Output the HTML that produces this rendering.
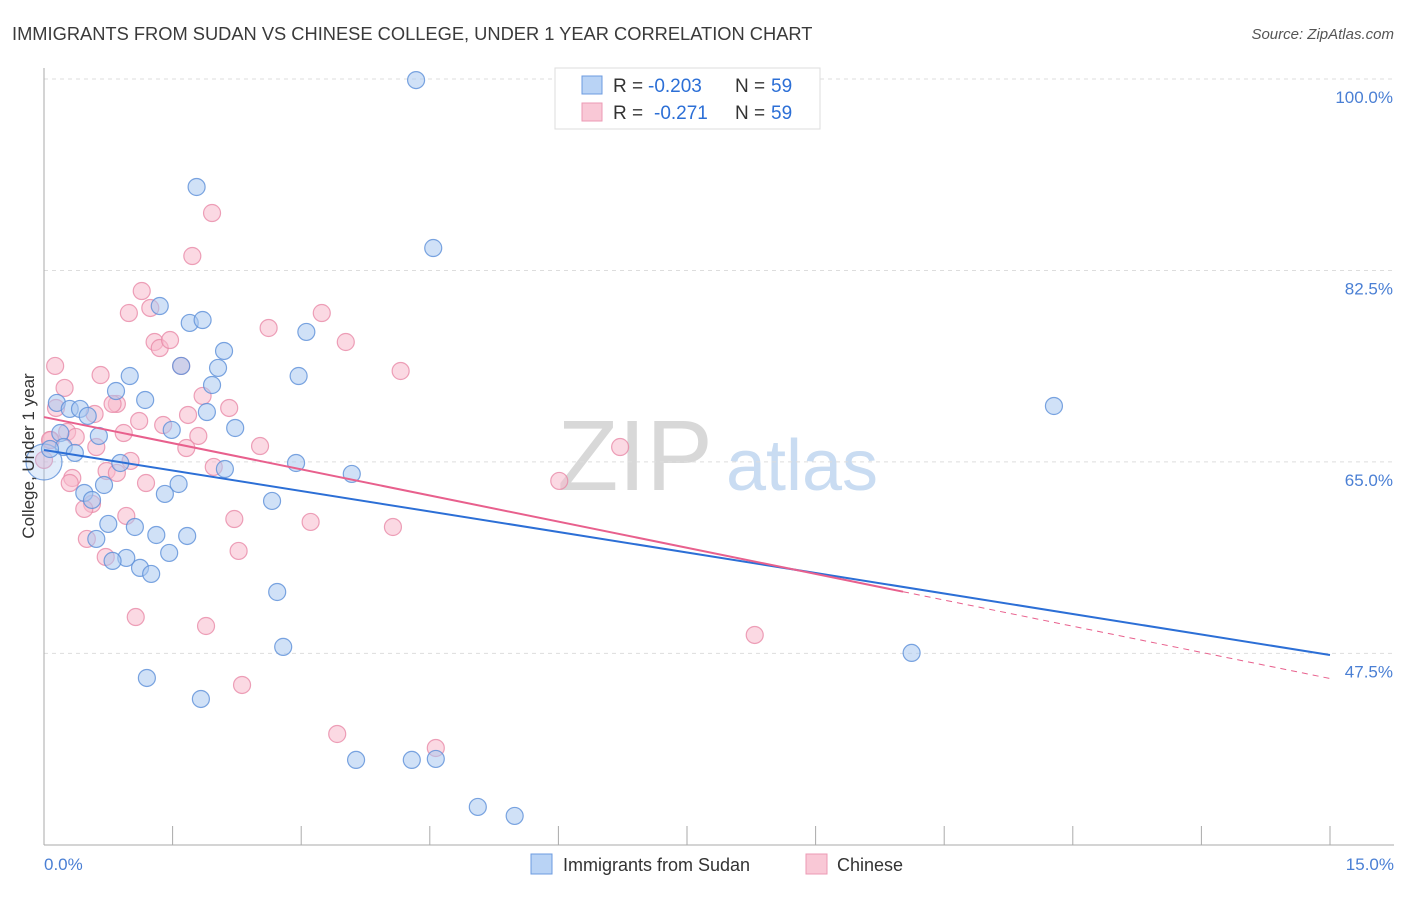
<!DOCTYPE html>
<html><head><meta charset="utf-8"><style>
body{margin:0;background:#fff;font-family:"Liberation Sans",sans-serif}
svg text{font-family:"Liberation Sans",sans-serif}
</style></head><body>
<svg id="chart" width="1406" height="892" viewBox="0 0 1406 892" xmlns="http://www.w3.org/2000/svg">
<text x="12" y="40" font-size="18.3" fill="#3a3a3a">IMMIGRANTS FROM SUDAN VS CHINESE COLLEGE, UNDER 1 YEAR CORRELATION CHART</text>
<text x="1394" y="39" font-size="15" fill="#555" text-anchor="end" font-style="italic">Source: ZipAtlas.com</text>
<g>
<text x="635" y="490" font-size="100" fill="#d8d8d8" font-family="Liberation Serif" text-anchor="middle">ZIP</text>
<text x="802" y="490" font-size="72" fill="#c9dcf2" text-anchor="middle">atlas</text>
</g>
<g id="grid"></g>
<g id="axes"></g>
<g id="points"></g>
<g id="lines"></g>
<text transform="translate(34,456) rotate(-90)" font-size="17" fill="#333" text-anchor="middle">College, Under 1 year</text>
<text x="44" y="870" font-size="17" fill="#4a7fd4">0.0%</text>
<text x="1394" y="870" font-size="17" fill="#4a7fd4" text-anchor="end">15.0%</text>
<g>
<rect x="555" y="68" width="265" height="61" fill="#fff" stroke="#ddd"/>
<rect x="582" y="76" width="20" height="18" fill="#b9d3f5" stroke="#6c9be0"/>
<rect x="582" y="103" width="20" height="18" fill="#f9c8d6" stroke="#ec9ab4"/>
<text x="613" y="92" font-size="19" fill="#333">R =</text>
<text x="648" y="92" font-size="19" fill="#2c6fd6">-0.203</text>
<text x="735" y="92" font-size="19" fill="#333">N =</text>
<text x="771" y="92" font-size="19" fill="#2c6fd6">59</text>
<text x="613" y="119" font-size="19" fill="#333">R =</text>
<text x="654" y="119" font-size="19" fill="#2c6fd6">-0.271</text>
<text x="735" y="119" font-size="19" fill="#333">N =</text>
<text x="771" y="119" font-size="19" fill="#2c6fd6">59</text>
</g>
<g>
<rect x="531" y="854" width="21" height="20" fill="#b9d3f5" stroke="#6c9be0"/>
<text x="563" y="871" font-size="18" fill="#333">Immigrants from Sudan</text>
<rect x="806" y="854" width="21" height="20" fill="#f9c8d6" stroke="#ec9ab4"/>
<text x="837" y="871" font-size="18" fill="#333">Chinese</text>
</g>
</svg>
<script>
const yTicks=[100,82.5,65,47.5];
const yTickLabels=["100.0%","82.5%","65.0%","47.5%"];
const xTicks=[0,1.5,3,4.5,6,7.5,9,10.5,12,13.5,15];
const sudanX=[4.34,1.78,4.54,1.35,1.70,1.85,3.06,2.10,1.60,2.03,2.97,1.00,1.96,0.84,1.18,0.15,0.30,0.42,0.51,1.90,2.23,1.49,0.64,0.19,0.23,0.36,0.89,2.94,3.59,2.11,1.57,0.47,0.70,0.56,1.41,2.66,0.75,1.06,0.61,1.31,1.67,1.46,0.96,0.80,1.12,1.25,2.72,2.79,1.20,1.83,3.64,4.29,4.57,5.06,5.49,11.78,10.12,0,0.07];
const sudanY=[99.9,90.13,84.55,79.25,77.70,77.97,76.88,75.14,73.77,73.59,72.85,72.85,72.03,71.48,70.66,70.39,69.84,69.84,69.20,69.56,68.10,67.92,67.37,67.64,66.36,65.82,64.90,64.90,63.90,64.35,62.98,62.16,62.89,61.52,62.07,61.43,59.33,59.05,57.96,58.32,58.23,56.68,56.22,55.95,55.31,54.76,53.11,48.09,45.25,43.33,37.76,37.76,37.85,33.46,32.64,70.11,47.54,64.99,66.18];
const chineseX=[0.13,0.24,0.66,1.14,0.99,1.24,1.73,1.96,2.62,3.24,3.52,1.29,1.35,1.47,1.60,1.85,4.16,0.85,0.59,1.68,2.16,0.80,0.14,0.27,0.37,0.93,1.11,1.39,1.80,1.66,2.52,0.61,0.08,1.01,0.73,0.85,1.98,6.72,0.33,0.30,1.19,0.56,0.47,0.96,2.22,3.11,4.07,6.01,0.50,0.72,2.27,1.07,1.89,8.29,2.31,3.42,4.57,0.07,0];
const chineseY=[73.77,71.76,72.94,80.62,78.61,79.07,83.82,87.75,77.24,78.61,75.96,75.96,75.41,76.14,73.77,71.03,73.31,70.30,69.38,69.29,69.93,70.30,69.93,67.74,67.28,67.64,68.74,68.37,67.37,66.27,66.45,66.36,67.00,65.09,64.17,63.99,64.54,66.36,63.53,63.07,63.07,61.16,60.70,60.06,59.78,59.51,59.05,63.26,57.96,56.31,56.86,50.82,50.00,49.18,44.61,40.13,38.85,67.00,65.18];
const sudanTrend=[66.09,47.35];
const chineseTrend=[69.1,45.2];
const chineseSolidEnd=10.02;

const NS="http://www.w3.org/2000/svg";
const X0=44,X1=1330,Y100=79,PX_PER=10.94;
function xs(v){return X0+v/15*(X1-X0);}
function ys(v){return Y100+(100-v)*PX_PER;}
function mk(tag,attrs,parent){const e=document.createElementNS(NS,tag);for(const k in attrs)e.setAttribute(k,attrs[k]);parent.appendChild(e);return e;}
const grid=document.getElementById('grid'),axes=document.getElementById('axes'),pts=document.getElementById('points'),lines=document.getElementById('lines');
yTicks.forEach((t,i)=>{
  const l=mk('line',{x1:X0,x2:1394,y1:ys(t),y2:ys(t),stroke:'#ddd','stroke-dasharray':'4,4'},grid);
  
  
  const tx=mk('text',{x:1393,y:ys(t)+24,'font-size':17,fill:'#4a7fd4','text-anchor':'end'},axes);
  tx.textContent=yTickLabels[i];
  
  
});
const ya=mk('line',{x1:X0,x2:X0,y1:68,y2:845,stroke:'#aaa'},axes);


const xa=mk('line',{x1:X0,x2:1394,y1:845,y2:845,stroke:'#aaa'},axes);


xTicks.forEach(t=>{
  const l=mk('line',{x1:xs(t),x2:xs(t),y1:826,y2:845,stroke:'#aaa'},axes);
  
  
});
function drawPts(X,Y,fill,stroke,name){
  X.forEach((x,i)=>{
    const big=(x===0&&name==='sudan-point');
    const c=mk('circle',{cx:xs(x),cy:ys(Y[i]),r:big?18:8.5,fill:fill,'fill-opacity':big?0.35:0.55,stroke:stroke,'stroke-opacity':0.8,'stroke-width':1.2},pts);
    
    
  });
}
drawPts(chineseX,chineseY,'#f7b9cc','#e88aa7','chinese-point');
drawPts(sudanX,sudanY,'#a9c8f0','#5b8fd8','sudan-point');
const sl=mk('line',{x1:xs(0),y1:ys(sudanTrend[0]),x2:xs(15),y2:ys(sudanTrend[1]),stroke:'#2c6fd6','stroke-width':2},lines);


const cAt=v=>chineseTrend[0]+(chineseTrend[1]-chineseTrend[0])*v/15;
const cl=mk('line',{x1:xs(0),y1:ys(cAt(0)),x2:xs(chineseSolidEnd),y2:ys(cAt(chineseSolidEnd)),stroke:'#e8608d','stroke-width':2},lines);


const cd=mk('line',{x1:xs(chineseSolidEnd),y1:ys(cAt(chineseSolidEnd)),x2:xs(15),y2:ys(cAt(15)),stroke:'#e8608d','stroke-width':1,'stroke-dasharray':'6,5'},lines);


</script>
</body></html>
